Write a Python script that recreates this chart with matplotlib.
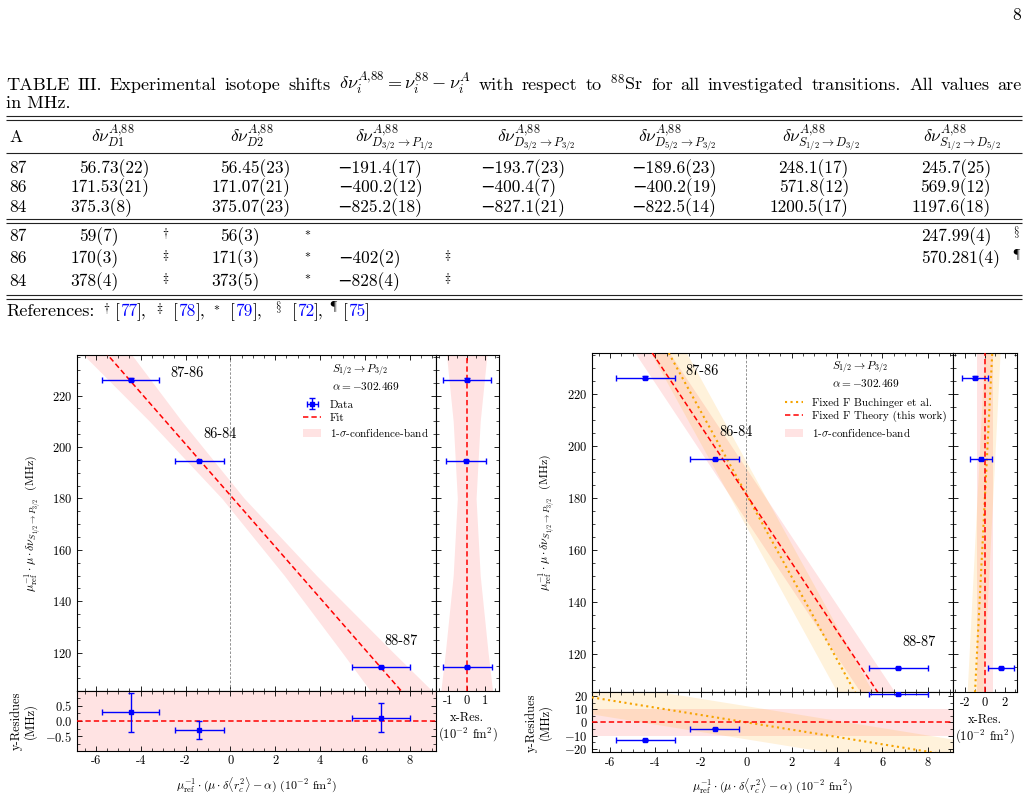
import numpy as np
import matplotlib.pyplot as plt
from matplotlib.ticker import AutoMinorLocator, FuncFormatter, MultipleLocator
from matplotlib.patches import Patch

plt.rcParams['font.family'] = ['cmr10', 'DejaVu Serif']
plt.rcParams['mathtext.fontset'] = 'cm'
plt.rcParams['axes.formatter.use_mathtext'] = True
plt.rcParams['axes.unicode_minus'] = True

W, H = 1029, 799

# ---------------- Table III ----------------
caption_words = ['TABLE', 'III.', 'Experimental', 'isotope', 'shifts',
                 r'$\delta\nu_i^{A{,}88}=\nu_i^{88}-\nu_i^{A}$', 'with', 'respect', 'to',
                 r'$^{88}$Sr', 'for', 'all', 'investigated', 'transitions.', 'All', 'values', 'are']
isotopes = ['87', '86', '84']
col_headers = [r'$\delta\nu^{A{,}88}_{D1}$',
               r'$\delta\nu^{A{,}88}_{D2}$',
               r'$\delta\nu^{A{,}88}_{D_{3/2}\rightarrow P_{1/2}}$',
               r'$\delta\nu^{A{,}88}_{D_{3/2}\rightarrow P_{3/2}}$',
               r'$\delta\nu^{A{,}88}_{D_{5/2}\rightarrow P_{3/2}}$',
               r'$\delta\nu^{A{,}88}_{S_{1/2}\rightarrow D_{3/2}}$',
               r'$\delta\nu^{A{,}88}_{S_{1/2}\rightarrow D_{5/2}}$']
this_work = [
    ['56.73(22)', '56.45(23)', '-191.4(17)', '-193.7(23)', '-189.6(23)', '248.1(17)', '245.7(25)'],
    ['171.53(21)', '171.07(21)', '-400.2(12)', '-400.4(7)', '-400.2(19)', '571.8(12)', '569.9(12)'],
    ['375.3(8)', '375.07(23)', '-825.2(18)', '-827.1(21)', '-822.5(14)', '1200.5(17)', '1197.6(18)'],
]
literature = [
    ['59(7)', '56(3)', '', '', '', '', '247.99(4)'],
    ['170(3)', '171(3)', '-402(2)', '', '', '', '570.281(4)'],
    ['378(4)', '373(5)', '-828(4)', '', '', '', ''],
]
lit_marks = [
    [r'\dagger', r'\ast', '', '', '', '', r'\S'],
    [r'\ddagger', r'\ast', r'\ddagger', '', '', '', r'\P'],
    [r'\ddagger', r'\ast', r'\ddagger', '', '', '', ''],
]
ref_marks = [r'\dagger', r'\ddagger', r'\ast', r'\S', r'\P']
ref_numbers = ['77', '78', '79', '72', '75']

# ---------------- King plot data ----------------
pairs = ['87-86', '86-84', '88-87']
kp_x = [-4.44, -1.385, 6.71]
kp_xerr = [1.28, 1.08, 1.31]
kp_y = [226.2, 194.7, 114.4]
kp_yerr = [0.63, 0.30, 0.47]
label_x = [-2.68, -1.2, 6.87]
label_y = [227.4, 203.6, 123.1]

# free fit (left)
fit_intercept = 181.2
fit_slope = -9.99
fit_res_y = [0.29, -0.29, 0.11]
fit_res_x = [0.03, -0.04, 0.03]
band_y = [80, 105, 120, 150, 180, 210, 236, 260]
band_w = [1.9, 1.38, 1.14, 0.72, 0.50, 0.72, 1.08, 1.45]

# fixed F (right)
theory_intercept = 181.3
theory_slope = -13.14
theory_band = 10.0
buch_intercept = 181.4
buch_slope = -15.9
buch_band = 12.5
fixed_res_y = [-13.3, -4.6, 21.3]
fixed_res_x = [-1.0, -0.38, 1.6]

title_text = '$S_{1/2}\\rightarrow P_{3/2}$\n$\\alpha=-302.469$'
PINK = (1.0, 0.0, 0.0, 0.11)
BEIGE = (1.0, 0.65, 0.0, 0.14)
ORANGE = '#f5a300'

fig = plt.figure(figsize=(W / 100, H / 100), dpi=100)
page = fig.add_axes([0, 0, 1, 1])
page.set_xlim(0, W)
page.set_ylim(H, 0)
page.axis('off')
renderer = fig.canvas.get_renderer()

FS = 12.5
page.text(1021, 20, '8', ha='right', va='baseline', fontsize=FS)

# justified first caption line
word_texts = [page.text(0, 90, w, ha='left', va='baseline', fontsize=13.1) for w in caption_words]
widths = [t.get_window_extent(renderer).width for t in word_texts]
gap = (1022 - 6 - sum(widths)) / (len(widths) - 1)
x = 6
for t, w in zip(word_texts, widths):
    t.set_x(x)
    x += w + gap
page.text(6, 108, 'in MHz.', ha='left', va='baseline', fontsize=13.1)

for yy in [116, 120, 218.5, 222.5, 295, 299]:
    page.hlines(yy, 6, 1022, color='#222222', lw=0.8)
page.hlines(153.3, 6, 1022, color='#222222', lw=0.8)

col_dec_x = [96, 237.5, 378, 520.5, 672, 804.5, 946.5]
col_head_x = [113, 252, 394, 536, 677, 821, 962]
row_y_work = [172.7, 192.5, 212.3]
row_y_lit = [241, 263.3, 285.7]

page.text(9, 142, 'A', ha='left', va='baseline', fontsize=FS)
for hx, h in zip(col_head_x, col_headers):
    page.text(hx, 142, h, ha='center', va='baseline', fontsize=FS)


def draw_value(x_dec, y, s):
    # decimal-aligned cell: one text, shifted so the integer part ends at the decimal position
    if not s:
        return
    s = s.replace('-', '\u2212')
    i = s.index('.') if '.' in s else s.index('(')
    probe = page.text(0, 0, s[:i], fontsize=FS)
    hw = probe.get_window_extent(renderer).width
    probe.remove()
    page.text(x_dec - hw, y, s, ha='left', va='baseline', fontsize=FS)


for r, iso in enumerate(isotopes):
    page.text(9, row_y_work[r], iso, ha='left', va='baseline', fontsize=FS)
    page.text(9, row_y_lit[r], iso, ha='left', va='baseline', fontsize=FS)
    for c in range(7):
        draw_value(col_dec_x[c], row_y_work[r], this_work[r][c])
        draw_value(col_dec_x[c], row_y_lit[r], literature[r][c])
        if lit_marks[r][c]:
            page.text(col_dec_x[c] + 70, row_y_lit[r], '$^{%s}$' % lit_marks[r][c],
                      ha='center', va='baseline', fontsize=FS)

# references line
ref_mark_x = [107, 160, 217, 279, 334]
ref_bracket_x = [115, 173, 230, 292, 343]
page.text(6.7, 316, 'References:', ha='left', va='baseline', fontsize=13)
for k, (m, n) in enumerate(zip(ref_marks, ref_numbers)):
    page.text(ref_mark_x[k], 316, '$^{%s}$' % m, ha='center', va='baseline', fontsize=FS)
    prev = page.text(ref_bracket_x[k], 316, '[', ha='left', va='baseline', fontsize=FS)
    for s, c in [(n, 'blue'), ('],' if k < len(ref_marks) - 1 else ']', 'k')]:
        prev = page.annotate(s, xy=(1, 316), xycoords=(prev, 'data'), ha='left', va='baseline',
                             fontsize=FS, color=c)


# ---------------- King plots ----------------
TFS = 9.0   # tick labels
LFS = 8.6   # axis labels


def style(ax):
    ax.tick_params(which='both', direction='in', top=True, right=True, labelsize=TFS, pad=3)
    ax.tick_params(which='major', length=3.5, width=0.6)
    ax.tick_params(which='minor', length=2, width=0.5)
    for sp in ax.spines.values():
        sp.set_linewidth(0.8)


hyphen = FuncFormatter(lambda v, p: '%g' % v)
ylab = r'$\mu_\mathrm{ref}^{-1}\cdot\mu\cdot\delta\nu_{S_{1/2}\rightarrow P_{3/2}}$  (MHz)'
xlab = r'$\mu_\mathrm{ref}^{-1}\cdot(\mu\cdot\delta\langle r_c^2\rangle-\alpha)$ $(10^{-2}$ fm$^2)$'
xreslab = 'x-Res.\n$(10^{-2}$ fm$^2)$'


def make_axes(px_left, px_right, px_xres, px_top, px_mid, px_bottom):
    main = fig.add_axes([px_left / W, 1 - px_mid / H, (px_right - px_left) / W, (px_mid - px_top) / H])
    yres = fig.add_axes([px_left / W, 1 - px_bottom / H, (px_right - px_left) / W, (px_bottom - px_mid) / H],
                        sharex=main)
    xres = fig.add_axes([px_right / W, 1 - px_mid / H, (px_xres - px_right) / W, (px_mid - px_top) / H],
                        sharey=main)
    for a in (main, yres, xres):
        style(a)
    main.tick_params(labelbottom=False)
    xres.tick_params(labelleft=False)
    main.yaxis.set_major_locator(MultipleLocator(20))
    main.yaxis.set_minor_locator(AutoMinorLocator(4))
    main.xaxis.set_major_locator(MultipleLocator(2))
    main.xaxis.set_minor_locator(AutoMinorLocator(4))
    yres.xaxis.set_major_formatter(hyphen)
    xres.xaxis.set_major_formatter(hyphen)
    xres.xaxis.set_minor_locator(AutoMinorLocator(2))
    yres.yaxis.set_minor_locator(AutoMinorLocator(2))
    main.set_ylabel(ylab, fontsize=LFS)
    yres.set_ylabel('y-Residues\n(MHz)', fontsize=TFS, linespacing=1.0)
    yres.set_xlabel(xlab, fontsize=LFS)
    xres.set_xlabel(xreslab, fontsize=TFS, linespacing=1.1)
    return main, yres, xres


def draw_points(ax, xs, ys, xe, ye):
    return ax.errorbar(xs, ys, xerr=xe, yerr=ye, fmt='s', color='blue', ms=3, elinewidth=1,
                       capsize=2.5, capthick=1, zorder=5, label='Data')


legend_kw = dict(title=title_text, title_fontsize=8.2, fontsize=8.0, loc='upper right',
                 bbox_to_anchor=(1.0, 1.0), frameon=False, handlelength=1.6, handletextpad=0.8,
                 labelspacing=0.3, borderaxespad=0.2)

# ---- left: free fit ----
m1, r1, x1 = make_axes(76.7, 435.7, 499, 355, 691, 751)
m1.set_xlim(-6.85, 9.15)
m1.set_ylim(105.1, 235.8)
r1.set_ylim(-0.97, 0.97)
x1.set_xlim(-1.65, 1.72)
x1.set_xticks([-1, 0, 1])
r1.set_yticks([-0.5, 0, 0.5])

by = np.array(band_y, dtype=float)
bw = np.array(band_w)
bx = (by - fit_intercept) / fit_slope
m1.fill_betweenx(by, bx - bw, bx + bw, color=PINK, lw=0, zorder=1)
xl = np.array([-6.85, 9.15])
fit_line, = m1.plot(xl, fit_intercept + fit_slope * xl, color='red', ls='--', lw=1.1,
                    dashes=(3.5, 2), zorder=3, label='Fit')
m1.axvline(0, color='gray', ls='--', lw=0.6, dashes=(3, 2), zorder=2)
eb = draw_points(m1, kp_x, kp_y, kp_xerr, kp_yerr)
for p, lx, ly in zip(pairs, label_x, label_y):
    m1.text(lx, ly, p, fontsize=10.3, ha='left', va='baseline')
leg = m1.legend(handles=[eb, fit_line, Patch(color=PINK, lw=0)],
                labels=['Data', 'Fit', r'1-$\sigma$-confidence-band'], **legend_kw)
leg._legend_box.sep = 6
m1.set_xlim(-6.85, 9.15)
m1.set_ylim(105.1, 235.8)

order = np.argsort(bx)
r1.fill_between(bx[order], -np.abs(fit_slope) * bw[order], np.abs(fit_slope) * bw[order],
                color=PINK, lw=0, zorder=1)
r1.axhline(0, color='red', ls='--', lw=1.1, dashes=(3.5, 2), zorder=3)
draw_points(r1, kp_x, fit_res_y, kp_xerr, kp_yerr)
r1.set_ylim(-0.97, 0.97)

x1.fill_betweenx(by, -bw, bw, color=PINK, lw=0, zorder=1)
x1.axvline(0, color='red', ls='--', lw=1.1, dashes=(3.5, 2), zorder=3)
draw_points(x1, fit_res_x, kp_y, kp_xerr, kp_yerr)
x1.set_xlim(-1.65, 1.72)

m1.yaxis.set_label_coords(-0.094, 0.5)
r1.yaxis.set_label_coords(-0.111, 0.5)
r1.xaxis.set_label_coords(0.5, -0.4)
x1.xaxis.set_label_coords(0.5, -0.0625)

# ---- right: fixed F ----
m2, r2, x2 = make_axes(591.7, 953.3, 1017.3, 352.7, 692.3, 752.3)
m2.set_xlim(-6.81, 9.13)
m2.set_ylim(105.1, 235.8)
r2.set_ylim(-22.5, 22.7)
x2.set_xlim(-3.17, 3.23)
x2.set_xticks([-2, 0, 2])
r2.set_yticks([-20, -10, 0, 10, 20])

xl = np.array(m2.get_xlim())
yl = np.array(m2.get_ylim())
t_line = theory_intercept + theory_slope * xl
b_line = buch_intercept + buch_slope * xl
m2.fill_between(xl, t_line - theory_band, t_line + theory_band, color=PINK, lw=0, zorder=1)
m2.fill_between(xl, b_line - buch_band, b_line + buch_band, color=BEIGE, lw=0, zorder=1)
buch_plot, = m2.plot(xl, b_line, color=ORANGE, ls=':', lw=1.5, zorder=3)
theory_plot, = m2.plot(xl, t_line, color='red', ls='--', lw=1.1, dashes=(3.5, 2), zorder=3)
m2.axvline(0, color='gray', ls='--', lw=0.6, dashes=(3, 2), zorder=2)
draw_points(m2, kp_x, kp_y, kp_xerr, kp_yerr)
for p, lx, ly in zip(pairs, label_x, label_y):
    m2.text(lx, ly, p, fontsize=10.3, ha='left', va='baseline')
leg = m2.legend(handles=[buch_plot, theory_plot, Patch(color=PINK, lw=0)],
                labels=['Fixed F Buchinger et al.', 'Fixed F Theory (this work)',
                        r'1-$\sigma$-confidence-band'], **legend_kw)
leg._legend_box.sep = 6
m2.set_xlim(-6.81, 9.13)
m2.set_ylim(105.1, 235.8)

diff_y = b_line - t_line
r2.fill_between(xl, -theory_band, theory_band, color=PINK, lw=0, zorder=1)
r2.fill_between(xl, diff_y - buch_band, diff_y + buch_band, color=BEIGE, lw=0, zorder=1)
r2.plot(xl, diff_y, color=ORANGE, ls=':', lw=1.5, zorder=3)
r2.axhline(0, color='red', ls='--', lw=1.1, dashes=(3.5, 2), zorder=3)
draw_points(r2, kp_x, fixed_res_y, kp_xerr, kp_yerr)
r2.set_ylim(-22.5, 22.7)

diff_x = (yl - buch_intercept) / buch_slope - (yl - theory_intercept) / theory_slope
tw = theory_band / abs(theory_slope)
bwid = buch_band / abs(buch_slope)
x2.fill_betweenx(yl, -tw, tw, color=PINK, lw=0, zorder=1)
x2.fill_betweenx(yl, diff_x - bwid, diff_x + bwid, color=BEIGE, lw=0, zorder=1)
x2.plot(diff_x, yl, color=ORANGE, ls=':', lw=1.5, zorder=3)
x2.axvline(0, color='red', ls='--', lw=1.1, dashes=(3.5, 2), zorder=3)
draw_points(x2, fixed_res_x, kp_y, kp_xerr, kp_yerr)
x2.set_xlim(-3.17, 3.23)

m2.yaxis.set_label_coords(-0.0968, 0.5)
r2.yaxis.set_label_coords(-0.11, 0.5)
r2.xaxis.set_label_coords(0.5, -0.4)
x2.xaxis.set_label_coords(0.5, -0.0625)

fig.savefig('out.png', dpi=100)
